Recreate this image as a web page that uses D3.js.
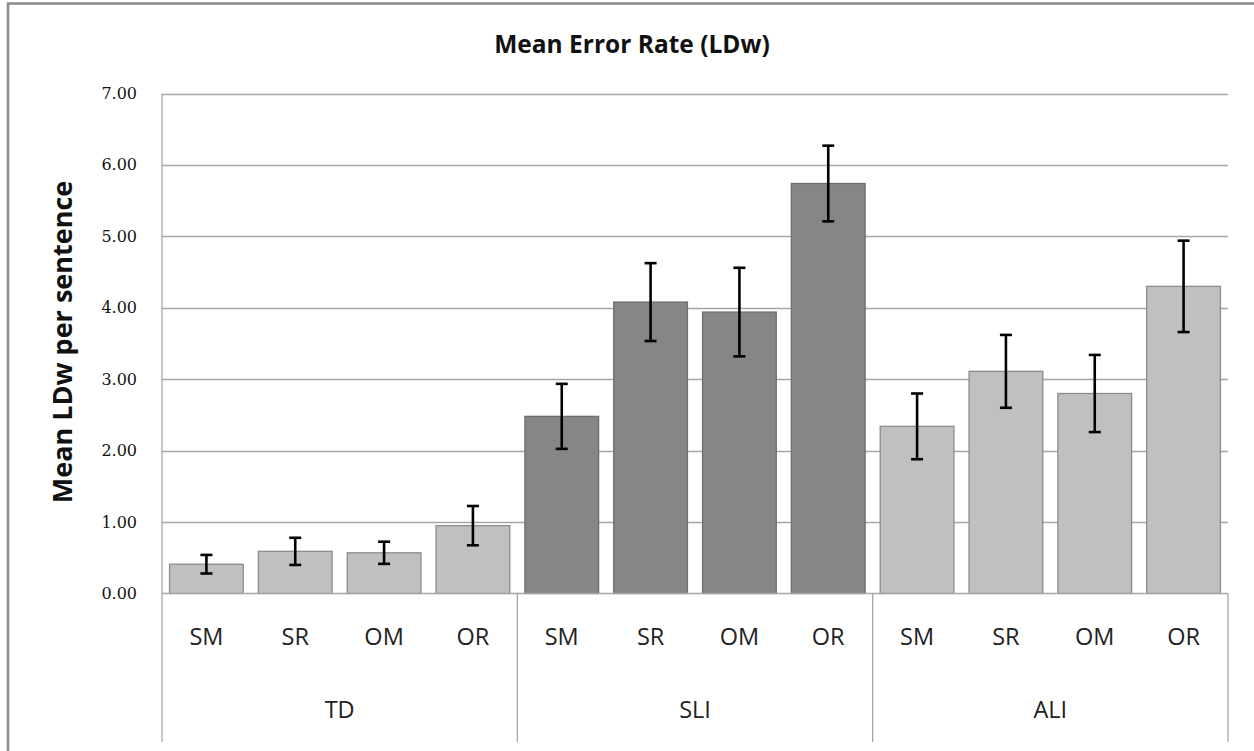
<!DOCTYPE html>
<html>
<head>
<script src="https://cdnjs.cloudflare.com/ajax/libs/d3/7.8.5/d3.min.js"></script>
<style>
  body { margin: 0; background: #fff; }
  .ytick { font-family: "DejaVu Serif", serif; font-size: 16px; fill: #111; }
  .cat { font-family: "Open Sans", sans-serif; font-size: 23.5px; fill: #222; }
</style>
</head>
<body>
<div id="vis"></div>
<script>
var w = 1254, h = 751;
var groups = ["TD", "SLI", "ALI"];
var conditions = ["SM", "SR", "OM", "OR"];
var tdMeans = [0.41, 0.59, 0.57, 0.95];
var sliMeans = [2.48, 4.08, 3.94, 5.74];
var aliMeans = [2.34, 3.11, 2.80, 4.30];
var tdErr = [0.13, 0.19, 0.155, 0.275];
var sliErr = [0.455, 0.545, 0.62, 0.53];
var aliErr = [0.46, 0.51, 0.54, 0.64];
var yTicks = [0, 1, 2, 3, 4, 5, 6, 7];

var groupColors = {TD: "#c0c0c0", SLI: "#868686", ALI: "#c0c0c0"};
var groupStroke = {TD: "#8c8c8c", SLI: "#6e6e6e", ALI: "#8c8c8c"};

var meansBy = {TD: tdMeans, SLI: sliMeans, ALI: aliMeans};
var errBy = {TD: tdErr, SLI: sliErr, ALI: aliErr};
var data = [];
groups.forEach(g => {
    conditions.forEach((c, i) => {
        data.push({key: g + "-" + c, group: g, cond: c, value: meansBy[g][i], err: errBy[g][i]});
    });
});

var plotLeft = 162, plotRight = 1228, plotTop = 93.5, zeroY = 593.5, axisBottom = 742;

const svg = d3.select("#vis").append("svg")
    .attr("width", w).attr("height", h)
    .attr("viewBox", [0, 0, w, h]);

// outer frame
svg.append("rect")
    .attr("x", 8).attr("y", 3.5)
    .attr("width", w + 20).attr("height", h + 20)
    .attr("fill", "none").attr("stroke", "#8a8a8a").attr("stroke-width", 2.5);

var x = d3.scaleBand().domain(data.map(d => d.key)).range([plotLeft, plotRight])
    .paddingInner(0.17).paddingOuter(0.085);
var xGroup = d3.scaleBand().domain(groups).range([plotLeft, plotRight]);
var y = d3.scaleLinear().domain([0, 7]).range([zeroY, plotTop]);

// gridlines
svg.append("g").selectAll("line").data(yTicks.filter(t => t > 0)).join("line")
    .attr("x1", plotLeft).attr("x2", plotRight)
    .attr("y1", d => Math.round(y(d)) + 0.5).attr("y2", d => Math.round(y(d)) + 0.5)
    .attr("stroke", "#a6a6a6").attr("stroke-width", 1.3);

// y tick labels
svg.append("g").selectAll("text").data(yTicks).join("text")
    .attr("class", "ytick")
    .attr("x", 137).attr("y", d => y(d) + 5.5)
    .attr("text-anchor", "end")
    .text(d => d3.format(".2f")(d));

// bars
svg.append("g").selectAll("rect").data(data).join("rect")
    .attr("x", d => x(d.key)).attr("width", x.bandwidth())
    .attr("y", d => y(d.value)).attr("height", d => y(0) - y(d.value))
    .attr("fill", d => groupColors[d.group])
    .attr("stroke", d => groupStroke[d.group]).attr("stroke-width", 1.3);

// error bars
var eb = svg.append("g").selectAll("g").data(data).join("g")
    .attr("transform", d => "translate(" + (x(d.key) + x.bandwidth() / 2) + ",0)");
eb.append("line")
    .attr("y1", d => y(d.value + d.err)).attr("y2", d => y(d.value - d.err))
    .attr("stroke", "#000").attr("stroke-width", 2.6);
eb.append("line")
    .attr("x1", -6).attr("x2", 6)
    .attr("y1", d => y(d.value + d.err)).attr("y2", d => y(d.value + d.err))
    .attr("stroke", "#000").attr("stroke-width", 2.6);
eb.append("line")
    .attr("x1", -6).attr("x2", 6)
    .attr("y1", d => y(d.value - d.err)).attr("y2", d => y(d.value - d.err))
    .attr("stroke", "#000").attr("stroke-width", 2.6);

// axes lines
svg.append("line")
    .attr("x1", plotLeft).attr("x2", plotRight).attr("y1", zeroY).attr("y2", zeroY)
    .attr("stroke", "#a6a6a6").attr("stroke-width", 1.3);
svg.append("line")
    .attr("x1", plotLeft).attr("x2", plotLeft).attr("y1", plotTop).attr("y2", axisBottom)
    .attr("stroke", "#a6a6a6").attr("stroke-width", 1.3);
svg.append("g").selectAll("line").data(groups).join("line")
    .attr("x1", d => xGroup(d) + xGroup.bandwidth()).attr("x2", d => xGroup(d) + xGroup.bandwidth())
    .attr("y1", zeroY).attr("y2", axisBottom)
    .attr("stroke", "#a6a6a6").attr("stroke-width", 1.3);

// category labels
svg.append("g").selectAll("text").data(data).join("text")
    .attr("class", "cat")
    .attr("x", d => x(d.key) + x.bandwidth() / 2).attr("y", 645)
    .attr("text-anchor", "middle")
    .text(d => d.cond);
svg.append("g").selectAll("text").data(groups).join("text")
    .attr("class", "cat")
    .attr("x", d => xGroup(d) + xGroup.bandwidth() / 2).attr("y", 718)
    .attr("text-anchor", "middle")
    .text(d => d);

// title
svg.append("text")
    .attr("x", 632).attr("y", 53)
    .attr("text-anchor", "middle")
    .style("font-family", "Open Sans, sans-serif").style("font-weight", "bold")
    .style("font-size", "24.5px").attr("fill", "#111")
    .text("Mean Error Rate (LDw)");

// y axis title
svg.append("text")
    .attr("transform", "translate(72,342) rotate(-90)")
    .attr("text-anchor", "middle")
    .style("font-family", "Open Sans, sans-serif").style("font-weight", "bold")
    .style("font-size", "27px").attr("fill", "#111")
    .text("Mean LDw per sentence");
</script>
</body>
</html>
